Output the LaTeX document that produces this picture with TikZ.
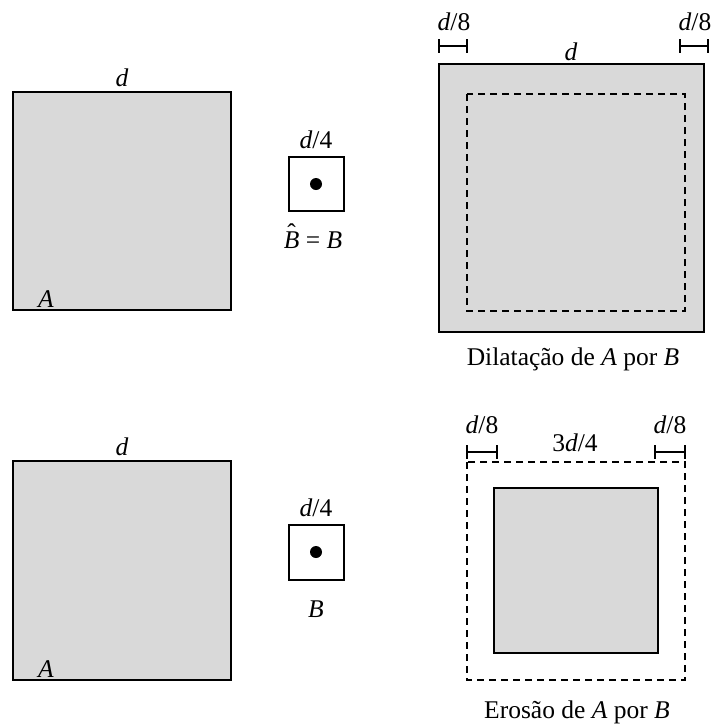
\documentclass[tikz,border=0pt]{standalone}
\usepackage{fontspec}
\setmainfont{Liberation Serif}
\definecolor{fillgray}{HTML}{D9D9D9}
\newcommand{\hatB}{\ooalign{\textit{B}\cr\hidewidth\raisebox{0.24em}{\char"02C6}\hidewidth\cr}}
\begin{document}
\begin{tikzpicture}[x=1pt,y=-1pt,
  solidbox/.style={draw=black,line width=1.6pt,fill=fillgray},
  dashbox/.style={draw=black,line width=1.6pt,dash pattern=on 7pt off 5pt},
  sebox/.style={draw=black,line width=1.6pt,fill=white},
  lbl/.style={font=\fontsize{25.5}{30}\selectfont,anchor=base,inner sep=0pt},
  marker/.style={line width=1.5pt}]
\useasboundingbox (0,0) rectangle (715,724);
% --- top row ---
\draw[solidbox] (13,92) rectangle (231,310);
\node[lbl] (dA1) at (122,86) {\textit{d}};
\node[lbl] (A1) at (46,307) {\textit{A}};
\draw[sebox] (289,157) rectangle (344,211);
\fill (316,184) circle (6);
\node[lbl] (dB1) at (316,148) {\textit{d}/4};
\node[lbl] (B1) at (313,248) {\hatB{} = \textit{B}};
\draw[solidbox] (439,64) rectangle (704,332);
\draw[dashbox] (467,94) rectangle (685,311);
\node[lbl] (dD) at (571,60) {\textit{d}};
\node[lbl] (d8a) at (454,30) {\textit{d}/8};
\node[lbl] (d8b) at (695,30) {\textit{d}/8};
\draw[marker] (439,39) -- (439,53) (439,46) -- (467,46) (467,39) -- (467,53);
\draw[marker] (680,39) -- (680,53) (680,46) -- (708,46) (708,39) -- (708,53);
\node[lbl] (capD) at (573,365) {Dilatação de \textit{A} por \textit{B}};
% --- bottom row ---
\draw[solidbox] (13,461) rectangle (231,680);
\node[lbl] (dA2) at (122,455) {\textit{d}};
\node[lbl] (A2) at (46,677) {\textit{A}};
\draw[sebox] (289,525) rectangle (344,580);
\fill (316,552) circle (6);
\node[lbl] (dB2) at (316,516) {\textit{d}/4};
\node[lbl] (B2) at (316,617) {\textit{B}};
\draw[dashbox] (467,462) rectangle (685,680);
\draw[solidbox] (494,488) rectangle (658,653);
\node[lbl] (d8c) at (482,433) {\textit{d}/8};
\node[lbl] (d8d) at (670,433) {\textit{d}/8};
\node[lbl] (d34) at (575,451) {3\textit{d}/4};
\draw[marker] (467,445) -- (467,459) (467,452) -- (497,452) (497,445) -- (497,459);
\draw[marker] (655,445) -- (655,459) (655,452) -- (685,452) (685,445) -- (685,459);
\node[lbl] (capE) at (577,718) {Erosão de \textit{A} por \textit{B}};
\end{tikzpicture}
\end{document}
